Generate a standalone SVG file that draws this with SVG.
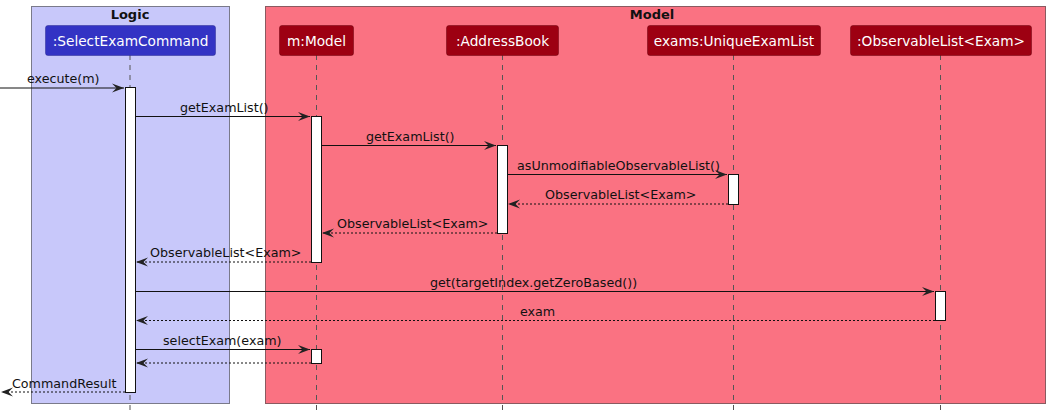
<svg xmlns="http://www.w3.org/2000/svg" width="1050" height="416" viewBox="0 0 1050 416">
<style>
text{font-family:"DejaVu Sans",sans-serif;fill:#111}
.msg{font-size:12.7px}
.ptxt{font-size:13.7px;fill:#fff;text-anchor:middle}
.gt{font-size:13px;font-weight:bold;text-anchor:middle}
.life{stroke:#555;stroke-width:1;stroke-dasharray:5,5}
.act{fill:#fff;stroke:#111;stroke-width:1}
.call{stroke:#111;stroke-width:1;fill:none}
.ret{stroke:#111;stroke-width:1;fill:none;stroke-dasharray:2,2}
.pl{fill:#3333C4;stroke:#2a2a90;stroke-width:0.5}
.pm{fill:#9D0012;stroke:#6d000c;stroke-width:0.5}
</style>
<defs>
<marker id="ah" viewBox="0 0 13 10" refX="12" refY="5" markerWidth="13" markerHeight="10" markerUnits="userSpaceOnUse" orient="auto">
<path d="M0,0.5 L12,5 L0,9.5 L4.5,5 Z" fill="#222"/>
</marker>
</defs>
<rect width="1050" height="416" fill="#fff"/>
<g id="group-logic">
<rect x="31.5" y="6.5" width="198" height="397" fill="#C8C8FA" stroke="#7a7a8a" stroke-width="1"/>
<text class="gt" x="130" y="19">Logic</text>
</g>
<g id="group-model">
<rect x="265.5" y="6.5" width="780" height="397" fill="#FA7282" stroke="#8a5a60" stroke-width="1"/>
<text class="gt" x="652" y="19">Model</text>
</g>
<g id="lifelines">
<line class="life" x1="130" y1="55" x2="130" y2="412"/>
<line class="life" x1="316.5" y1="55" x2="316.5" y2="412"/>
<line class="life" x1="502.5" y1="55" x2="502.5" y2="412"/>
<line class="life" x1="733.5" y1="55" x2="733.5" y2="412"/>
<line class="life" x1="940.5" y1="55" x2="940.5" y2="412"/>
</g>
<g id="p-selectexamcommand">
<rect class="pl" x="45.5" y="25.5" width="170" height="30" rx="2.5"/>
<text class="ptxt" x="130.5" y="45.5">:SelectExamCommand</text>
</g>
<g id="p-model">
<rect class="pm" x="279.5" y="25.5" width="74" height="30" rx="2.5"/>
<text class="ptxt" x="316.5" y="45.5">m:Model</text>
</g>
<g id="p-addressbook">
<rect class="pm" x="446.5" y="25.5" width="112" height="30" rx="2.5"/>
<text class="ptxt" x="502.5" y="45.5">:AddressBook</text>
</g>
<g id="p-uniqueexamlist">
<rect class="pm" x="647.5" y="25.5" width="173" height="30" rx="2.5"/>
<text class="ptxt" x="734" y="45.5">exams:UniqueExamList</text>
</g>
<g id="p-observablelist">
<rect class="pm" x="850.5" y="25.5" width="181" height="30" rx="2.5"/>
<text class="ptxt" x="941" y="45.5">:ObservableList&lt;Exam&gt;</text>
</g>
<g id="activations">
<rect class="act" x="125.5" y="87.5" width="10" height="305"/>
<rect class="act" x="311.5" y="116.5" width="10" height="146"/>
<rect class="act" x="311.5" y="349.5" width="10" height="14"/>
<rect class="act" x="497.5" y="145.5" width="10" height="88"/>
<rect class="act" x="728.5" y="174.5" width="10" height="30"/>
<rect class="act" x="935.5" y="291.5" width="10" height="29"/>
</g>
<g id="connectors">
<line class="call" x1="0" y1="88" x2="124" y2="88" marker-end="url(#ah)"/>
<text class="msg" x="27" y="83">execute(m)</text>
<line class="call" x1="136" y1="116.5" x2="310" y2="116.5" marker-end="url(#ah)"/>
<text class="msg" x="180" y="111.5">getExamList()</text>
<line class="call" x1="322" y1="145.5" x2="496" y2="145.5" marker-end="url(#ah)"/>
<text class="msg" x="366" y="140.5">getExamList()</text>
<line class="call" x1="508" y1="174.5" x2="727" y2="174.5" marker-end="url(#ah)"/>
<text class="msg" x="517" y="169.5">asUnmodifiableObservableList()</text>
<line class="ret" x1="728" y1="204" x2="508" y2="204" marker-end="url(#ah)"/>
<text class="msg" x="545" y="198.5">ObservableList&lt;Exam&gt;</text>
<line class="ret" x1="497" y1="233" x2="322" y2="233" marker-end="url(#ah)"/>
<text class="msg" x="337" y="227.5">ObservableList&lt;Exam&gt;</text>
<line class="ret" x1="311" y1="262" x2="136" y2="262" marker-end="url(#ah)"/>
<text class="msg" x="150" y="256.5">ObservableList&lt;Exam&gt;</text>
<line class="call" x1="136" y1="291.5" x2="934" y2="291.5" marker-end="url(#ah)"/>
<text class="msg" x="430" y="286.5">get(targetIndex.getZeroBased())</text>
<line class="ret" x1="935" y1="320.5" x2="136" y2="320.5" marker-end="url(#ah)"/>
<text class="msg" x="520" y="315.5">exam</text>
<line class="call" x1="136" y1="349.5" x2="310" y2="349.5" marker-end="url(#ah)"/>
<text class="msg" x="163" y="344.5">selectExam(exam)</text>
<line class="ret" x1="311" y1="363" x2="136" y2="363" marker-end="url(#ah)"/>
<line class="ret" x1="125" y1="392" x2="1" y2="392" marker-end="url(#ah)"/>
<text class="msg" x="12" y="387.5">CommandResult</text>
</g>
</svg>
